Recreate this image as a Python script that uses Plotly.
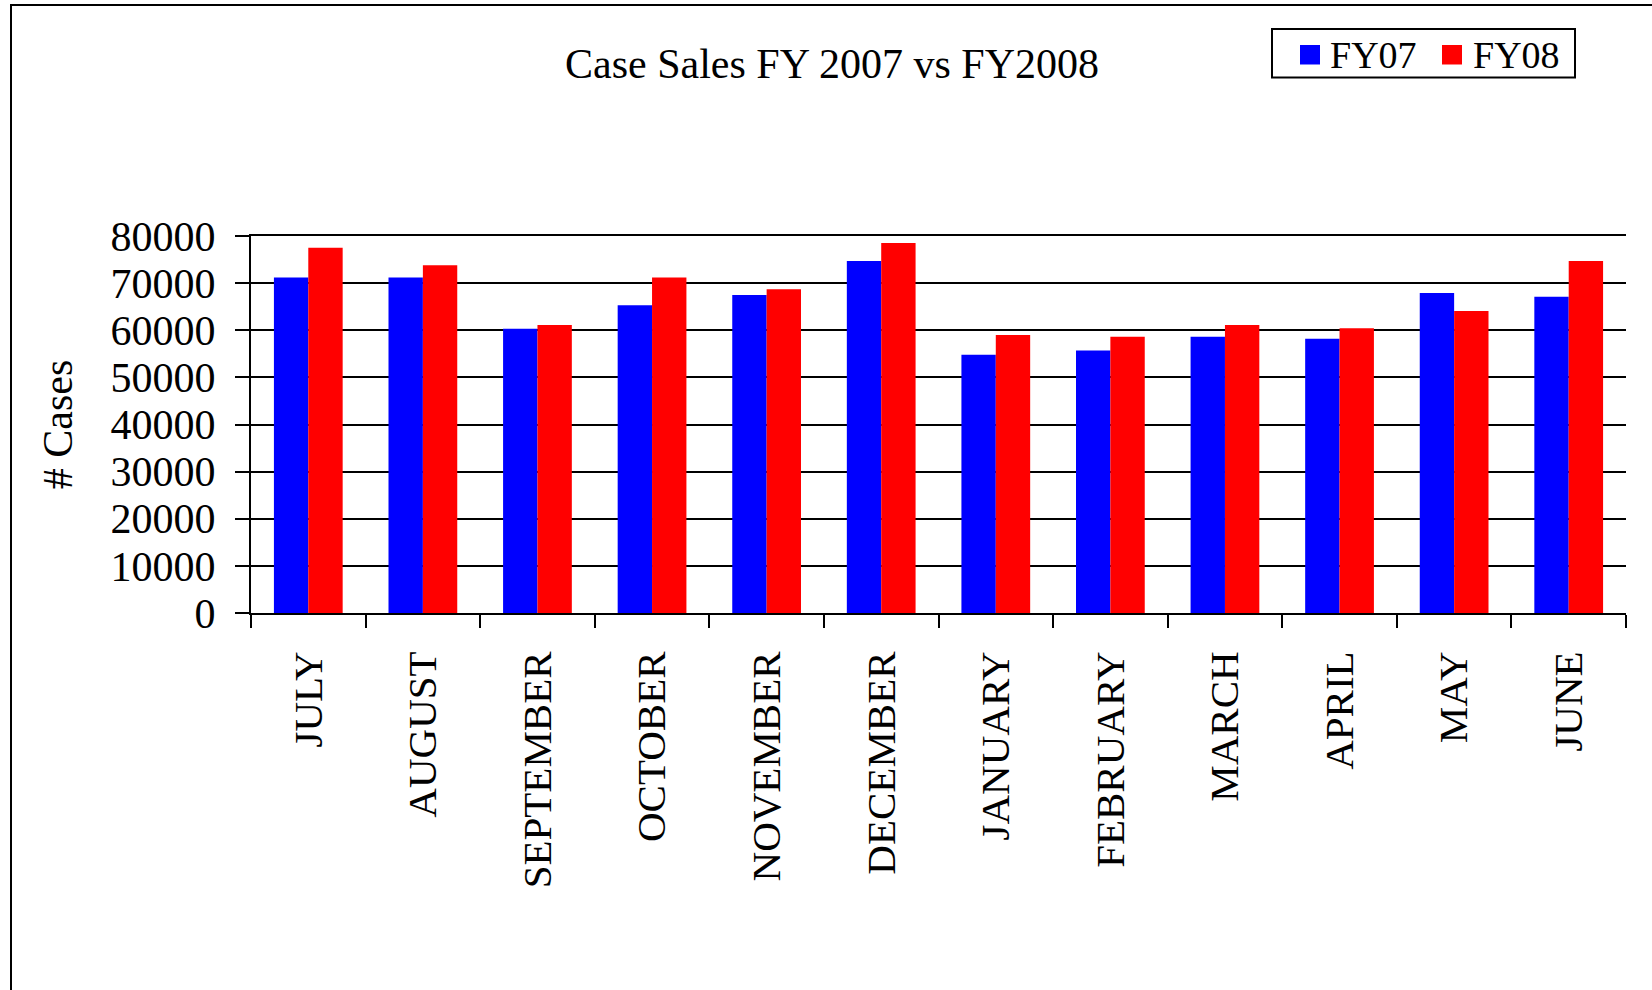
import plotly.graph_objects as go

months = ["JULY", "AUGUST", "SEPTEMBER", "OCTOBER", "NOVEMBER", "DECEMBER",
          "JANUARY", "FEBRUARY", "MARCH", "APRIL", "MAY", "JUNE"]
fy07 = [71200, 71200, 60300, 65300, 67500, 74700, 54800, 55700, 58600, 58200, 67900, 67100]
fy08 = [77500, 73800, 61100, 71200, 68700, 78500, 59000, 58600, 61100, 60400, 64100, 74700]
y_ticks = [0, 10000, 20000, 30000, 40000, 50000, 60000, 70000, 80000]
series_names = ["FY07", "FY08"]
series_colors = ["#0000FF", "#FF0000"]

FONT = "Liberation Serif, Times New Roman, serif"
W, H = 1652, 990
L, R, T, B = 251, 26, 236, 377
PW, PH = W - L - R, H - T - B


def px_x(x):
    return (x - L) / PW


def px_y(y):
    return (H - B - y) / PH


fig = go.Figure()
for name, vals, col in zip(series_names, [fy07, fy08], series_colors):
    fig.add_trace(go.Bar(name=name, x=months, y=vals,
                         marker=dict(color=col, line=dict(width=0)), showlegend=False))

fig.update_layout(
    width=W, height=H,
    template="none",
    paper_bgcolor="white", plot_bgcolor="white",
    margin=dict(l=L, r=R, t=T, b=B, pad=0, autoexpand=False),
    barmode="group", bargap=0.4, bargroupgap=0,
    font=dict(family=FONT, color="black", size=42),
    title=dict(text="Case Sales FY 2007 vs FY2008", x=832 / W, xanchor="center",
               y=1 - 63.5 / H, yanchor="middle", yref="container",
               font=dict(family=FONT, size=42, color="black")),
    showlegend=False,
)

fig.update_xaxes(
    type="category", categoryorder="array", categoryarray=months,
    tickangle=-90, tickson="boundaries", ticks="outside", ticklen=13, tickwidth=2,
    tickcolor="black", showline=True, linecolor="black", linewidth=2, mirror=True,
    showgrid=False, zeroline=False, automargin=False,
    tickfont=dict(family=FONT, size=41, color="black"), ticklabelstandoff=20,
)
fig.update_yaxes(
    range=[0, 80000], tickvals=y_ticks, ticktext=[str(v) for v in y_ticks],
    ticks="outside", ticklen=14, tickwidth=2, tickcolor="black",
    showline=True, linecolor="black", linewidth=2,
    showgrid=True, gridcolor="black", gridwidth=2, zeroline=False,
    automargin=False,
    tickfont=dict(family=FONT, size=42, color="black"), ticklabelstandoff=11,
    title=dict(text="# Cases", font=dict(family=FONT, size=42, color="black"), standoff=25),
)

# outer chart-area border (extends past the right and bottom of the page)
fig.add_shape(type="rect", xref="paper", yref="paper",
              x0=px_x(11), x1=1.2, y0=-1.5, y1=px_y(5),
              line=dict(color="black", width=2), fillcolor="rgba(0,0,0,0)", layer="below")

# legend box
fig.add_shape(type="rect", xref="paper", yref="paper",
              x0=px_x(1272), x1=px_x(1575), y0=px_y(77.5), y1=px_y(29),
              line=dict(color="black", width=2), fillcolor="white", layer="above")
legend_sq_x = [1300, 1442]
legend_txt_x = [1328, 1471]
for name, col, sx, tx in zip(series_names, series_colors, legend_sq_x, legend_txt_x):
    fig.add_shape(type="rect", xref="paper", yref="paper",
                  x0=px_x(sx), x1=px_x(sx + 20), y0=px_y(64.5), y1=px_y(45),
                  line=dict(width=0), fillcolor=col, layer="above")
    fig.add_annotation(text=name, xref="paper", yref="paper",
                       x=px_x(tx), y=px_y(55), xanchor="left", yanchor="middle",
                       showarrow=False, font=dict(family=FONT, size=38, color="black"))

fig.write_html("out.html", config={"displayModeBar": False},
               post_script="document.body.style.margin='0px';")
